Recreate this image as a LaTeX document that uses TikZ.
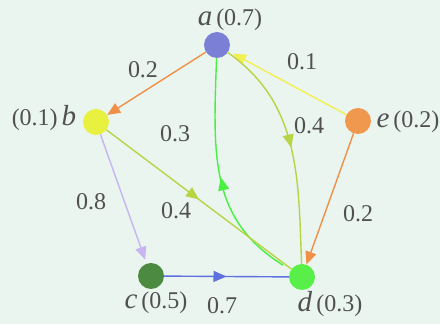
\documentclass[tikz,border=0pt]{standalone}
\usepackage{fontspec}
\setmainfont{Liberation Serif}
\usetikzlibrary{arrows.meta,decorations.markings}
\definecolor{bgcol}{HTML}{EAF5EF}
\definecolor{txtcol}{HTML}{505050}
\definecolor{acol}{HTML}{7B80D6}
\definecolor{bcol}{HTML}{E8F040}
\definecolor{ccol}{HTML}{4C8A42}
\definecolor{dcol}{HTML}{58F048}
\definecolor{ecol}{HTML}{F0984E}
\definecolor{orangeedge}{HTML}{F09048}
\definecolor{yellowedge}{HTML}{F2F050}
\definecolor{olivedge}{HTML}{B8D444}
\definecolor{greenedge}{HTML}{48F040}
\definecolor{lavedge}{HTML}{C8B4F0}
\definecolor{blueedge}{HTML}{6070E0}
\newcommand{\vl}[1]{{\fontsize{29}{30}\selectfont\textit{#1}}}
\begin{document}
\begin{tikzpicture}[x=1pt,y=1pt,
  vert/.style={circle,minimum size=26pt,inner sep=0pt},
  lbl/.style={text=txtcol,font=\fontsize{24}{28}\selectfont,inner sep=0pt},
  tipend/.style={-{Triangle[length=13pt,width=11pt]}},
  midarrow/.style={postaction={decorate},decoration={markings,mark=at position 0.5 with {\arrow{Triangle[length=13pt,width=11pt]}}}},
  edgeline/.style={line width=1.4pt}]
\fill[bgcol] (0,0) rectangle (440,324);
\useasboundingbox (0,0) rectangle (440,324);
% vertices
\node[vert,fill=acol] (a) at (217,279) {};
\node[vert,fill=bcol] (b) at (96,202) {};
\node[vert,fill=ecol] (e) at (358,203) {};
\node[vert,fill=ccol] (c) at (151,48) {};
\node[vert,fill=dcol] (d) at (302,47) {};
% edges
\draw[edgeline,orangeedge,tipend] (a) -- (b);
\draw[edgeline,yellowedge,tipend,shorten >=5pt] (e) -- (a);
\draw[edgeline,olivedge,midarrow] (a) to[out=-35,in=92] (d);
\draw[edgeline,greenedge,midarrow,shorten <=9pt] (d) to[out=148,in=-92,looseness=1.1] (a);
\draw[edgeline,olivedge,midarrow] (b) -- (d);
\draw[edgeline,lavedge,tipend,shorten >=4pt] (b) -- (c);
\draw[edgeline,blueedge,midarrow] (c) -- (d);
\draw[edgeline,orangeedge,tipend] (e) -- (d);
% vertex labels
\node[lbl,anchor=base] (la) at (230,298) {\vl{a}\,(0.7)};
\node[lbl,anchor=base] (lb) at (44,198) {(0.1)\,\vl{b}};
\node[lbl,anchor=base] (le) at (408,196) {\vl{e}\,(0.2)};
\node[lbl,anchor=base] (lc) at (156,15) {\vl{c}\,(0.5)};
\node[lbl,anchor=base] (ld) at (330,12) {\vl{d}\,(0.3)};
% weights
\node[lbl] (w1) at (143,254) {0.2};
\node[lbl] (w2) at (302,262) {0.1};
\node[lbl] (w3) at (175,190) {0.3};
\node[lbl] (w4) at (309,198) {0.4};
\node[lbl] (w5) at (91,122) {0.8};
\node[lbl] (w6) at (176,113) {0.4};
\node[lbl] (w7) at (358,110) {0.2};
\node[lbl] (w8) at (222,18) {0.7};
\end{tikzpicture}
\end{document}
